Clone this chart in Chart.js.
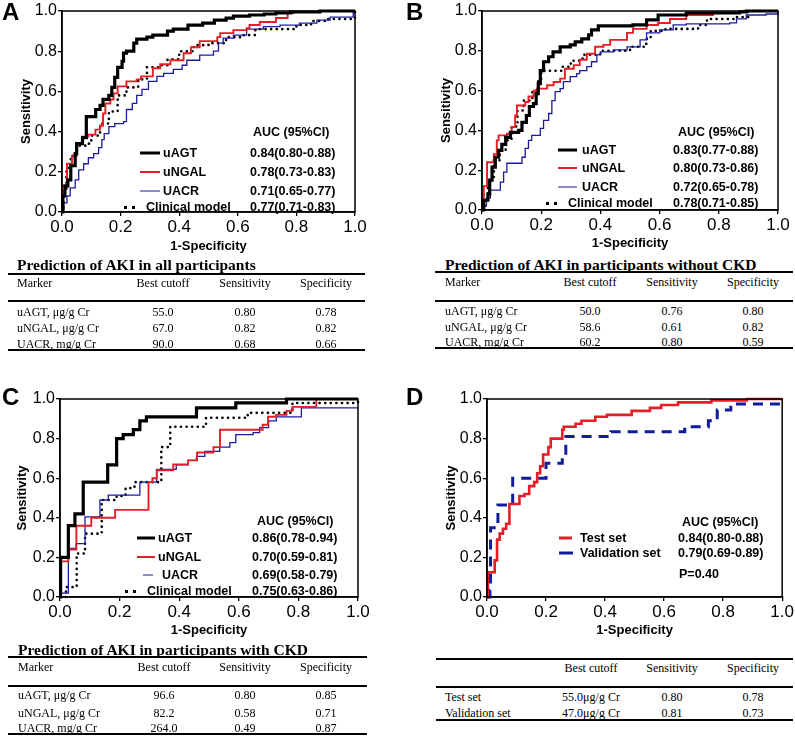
<!DOCTYPE html>
<html>
<head>
<meta charset="utf-8">
<script src="https://cdn.jsdelivr.net/npm/chart.js@4.4.0/dist/chart.umd.min.js"></script>
<style>
  body { margin: 0; background: #fff; }
  #fig { position: relative; width: 795px; height: 737px; overflow: hidden; font-family: "Liberation Sans", Arial, sans-serif; color: #000; }
  canvas { position: absolute; }
  .letter { position: absolute; font-weight: bold; font-size: 24px; line-height: 24px; }
  .lg { position: absolute; font-weight: bold; font-size: 12.5px; line-height: 14px; white-space: nowrap; transform: translateY(-50%); }
  .sw { position: absolute; height: 0; }
  .tt { position: absolute; font-family: "Liberation Serif", "Times New Roman", serif; font-weight: bold; font-size: 15.5px; line-height: 16px; white-space: nowrap; transform: translateY(-50%); }
  .rule { position: absolute; height: 0; border-top: 2px solid #000; }
  .cell { position: absolute; font-family: "Liberation Serif", "Times New Roman", serif; font-size: 12px; line-height: 14px; white-space: nowrap; transform: translate(-50%, -50%); }
  .cell.first { transform: translateY(-50%); }
</style>
</head>
<body>
<div id="fig">
  <canvas id="rocA" width="395" height="258" style="left:0;top:0"></canvas>
  <canvas id="rocB" width="395" height="256" style="left:400px;top:0"></canvas>
  <canvas id="rocC" width="395" height="272" style="left:0;top:370px"></canvas>
  <canvas id="rocD" width="395" height="272" style="left:400px;top:370px"></canvas>
</div>
<script>
/** ROC curves of uAGT, uNGAL, UACR for AKI prediction, panels A-D */

const TICK_VALUES = [0, 0.2, 0.4, 0.6, 0.8, 1.0];

// A: all participants
const aAgtFpr = [0, 0.003, 0.01, 0.02, 0.03, 0.045, 0.05, 0.07, 0.083, 0.115, 0.13, 0.14, 0.16, 0.17, 0.18, 0.19, 0.205, 0.21, 0.22, 0.245, 0.255, 0.29, 0.31, 0.36, 0.38, 0.43, 0.48, 0.52, 0.56, 0.585, 0.64, 0.69, 0.73, 0.78, 0.88, 1];
const aAgtSens = [0, 0.08, 0.13, 0.16, 0.23, 0.29, 0.34, 0.37, 0.475, 0.51, 0.53, 0.56, 0.58, 0.62, 0.67, 0.72, 0.75, 0.79, 0.80, 0.84, 0.86, 0.87, 0.88, 0.90, 0.91, 0.93, 0.94, 0.955, 0.965, 0.975, 0.98, 0.985, 0.99, 0.995, 1, 1];
const aNgalFpr = [0, 0.002, 0.017, 0.034, 0.05, 0.068, 0.09, 0.114, 0.13, 0.14, 0.148, 0.165, 0.176, 0.19, 0.22, 0.255, 0.27, 0.31, 0.335, 0.37, 0.415, 0.44, 0.47, 0.53, 0.54, 0.585, 0.63, 0.64, 0.675, 0.73, 0.77, 0.79, 0.88, 1];
const aNgalSens = [0, 0.13, 0.24, 0.28, 0.34, 0.375, 0.385, 0.41, 0.43, 0.49, 0.54, 0.56, 0.59, 0.625, 0.65, 0.66, 0.675, 0.715, 0.735, 0.755, 0.79, 0.82, 0.85, 0.87, 0.89, 0.905, 0.915, 0.93, 0.945, 0.965, 0.99, 0.995, 1, 1];
const aAcrFpr = [0, 0.006, 0.017, 0.028, 0.045, 0.057, 0.074, 0.09, 0.108, 0.125, 0.136, 0.144, 0.16, 0.18, 0.21, 0.22, 0.24, 0.255, 0.273, 0.295, 0.324, 0.347, 0.38, 0.41, 0.426, 0.47, 0.517, 0.534, 0.55, 0.585, 0.63, 0.687, 0.744, 0.81, 0.87, 0.915, 0.994, 1];
const aAcrSens = [0, 0.045, 0.08, 0.12, 0.16, 0.21, 0.24, 0.27, 0.29, 0.32, 0.36, 0.39, 0.425, 0.44, 0.45, 0.51, 0.54, 0.58, 0.61, 0.65, 0.675, 0.69, 0.71, 0.73, 0.755, 0.78, 0.80, 0.84, 0.865, 0.88, 0.91, 0.922, 0.93, 0.94, 0.955, 0.97, 1, 1];
const aClinFpr = [0, 0.005, 0.015, 0.03, 0.05, 0.08, 0.1, 0.13, 0.16, 0.19, 0.22, 0.26, 0.29, 0.33, 0.36, 0.4, 0.45, 0.5, 0.56, 0.62, 0.66, 0.72, 0.8, 0.85, 0.9, 0.99, 1];
const aClinSens = [0, 0.1, 0.22, 0.28, 0.33, 0.34, 0.38, 0.44, 0.5, 0.58, 0.62, 0.66, 0.72, 0.73, 0.76, 0.8, 0.83, 0.84, 0.87, 0.88, 0.91, 0.91, 0.93, 0.95, 0.96, 0.965, 1];

// B: participants without CKD
const bAgtFpr = [0, 0.006, 0.02, 0.026, 0.034, 0.045, 0.056, 0.067, 0.08, 0.096, 0.124, 0.135, 0.15, 0.16, 0.174, 0.183, 0.19, 0.197, 0.208, 0.225, 0.24, 0.264, 0.298, 0.315, 0.337, 0.36, 0.37, 0.393, 0.51, 0.556, 0.595, 0.69, 0.87, 0.893, 1];
const bAgtSens = [0, 0.05, 0.08, 0.15, 0.215, 0.265, 0.30, 0.33, 0.365, 0.39, 0.40, 0.44, 0.475, 0.52, 0.535, 0.585, 0.635, 0.70, 0.745, 0.77, 0.795, 0.82, 0.83, 0.845, 0.86, 0.88, 0.905, 0.925, 0.93, 0.955, 0.98, 0.99, 0.995, 1, 1];
const bNgalFpr = [0, 0.003, 0.006, 0.017, 0.04, 0.05, 0.056, 0.084, 0.1, 0.112, 0.118, 0.146, 0.157, 0.174, 0.186, 0.22, 0.242, 0.264, 0.28, 0.31, 0.33, 0.354, 0.382, 0.41, 0.433, 0.49, 0.51, 0.556, 0.595, 0.635, 0.69, 0.78, 0.87, 1];
const bNgalSens = [0, 0.065, 0.12, 0.24, 0.28, 0.35, 0.375, 0.383, 0.417, 0.475, 0.525, 0.543, 0.57, 0.60, 0.61, 0.627, 0.643, 0.66, 0.71, 0.728, 0.755, 0.785, 0.82, 0.83, 0.855, 0.89, 0.91, 0.93, 0.94, 0.96, 0.98, 0.993, 1, 1];
const bAcrFpr = [0, 0.006, 0.015, 0.028, 0.062, 0.073, 0.084, 0.135, 0.146, 0.157, 0.168, 0.197, 0.208, 0.225, 0.236, 0.247, 0.264, 0.275, 0.298, 0.32, 0.33, 0.354, 0.37, 0.388, 0.4, 0.444, 0.49, 0.534, 0.556, 0.6, 0.646, 0.69, 0.837, 0.86, 0.893, 0.96, 1];
const bAcrSens = [0, 0.02, 0.06, 0.1, 0.14, 0.19, 0.235, 0.265, 0.31, 0.35, 0.375, 0.41, 0.45, 0.485, 0.55, 0.595, 0.61, 0.645, 0.67, 0.685, 0.70, 0.72, 0.745, 0.78, 0.795, 0.805, 0.82, 0.855, 0.89, 0.905, 0.93, 0.935, 0.94, 0.96, 0.98, 0.985, 1];
const bClinFpr = [0, 0.005, 0.02, 0.04, 0.06, 0.08, 0.1, 0.12, 0.14, 0.17, 0.19, 0.2, 0.27, 0.3, 0.34, 0.4, 0.5, 0.555, 0.57, 0.62, 0.73, 0.76, 0.86, 0.9, 1];
const bClinSens = [0, 0.08, 0.15, 0.25, 0.3, 0.35, 0.42, 0.5, 0.55, 0.6, 0.65, 0.7, 0.72, 0.75, 0.78, 0.8, 0.82, 0.86, 0.9, 0.91, 0.93, 0.96, 0.97, 1, 1];

// C: participants with CKD
const cAgtFpr = [0, 0.002, 0.028, 0.05, 0.078, 0.16, 0.19, 0.212, 0.246, 0.268, 0.29, 0.458, 0.59, 0.76, 1];
const cAgtSens = [0, 0.2, 0.36, 0.42, 0.58, 0.667, 0.8, 0.82, 0.845, 0.89, 0.91, 0.955, 0.98, 1, 1];
const cNgalFpr = [0, 0.002, 0.028, 0.055, 0.105, 0.185, 0.297, 0.31, 0.325, 0.38, 0.43, 0.46, 0.515, 0.537, 0.68, 0.698, 0.725, 0.76, 0.78, 0.86, 1];
const cNgalSens = [0, 0.18, 0.24, 0.36, 0.40, 0.44, 0.58, 0.6, 0.64, 0.67, 0.69, 0.73, 0.757, 0.845, 0.87, 0.91, 0.92, 0.94, 0.96, 1, 1];
const cAcrFpr = [0, 0.001, 0.028, 0.054, 0.084, 0.134, 0.162, 0.268, 0.324, 0.39, 0.43, 0.458, 0.486, 0.536, 0.57, 0.59, 0.648, 0.67, 0.7, 0.726, 0.81, 1];
const cAcrSens = [0, 0.02, 0.245, 0.27, 0.405, 0.49, 0.515, 0.58, 0.645, 0.667, 0.69, 0.71, 0.735, 0.757, 0.78, 0.82, 0.83, 0.855, 0.89, 0.91, 0.955, 0.955];
const cClinFpr = [0, 0.02, 0.056, 0.056, 0.084, 0.084, 0.14, 0.14, 0.19, 0.22, 0.25, 0.34, 0.34, 0.37, 0.49, 0.63, 0.78, 1];
const cClinSens = [0, 0.05, 0.1, 0.22, 0.25, 0.32, 0.32, 0.49, 0.51, 0.55, 0.58, 0.6, 0.757, 0.86, 0.905, 0.93, 0.98, 1];

// D: test vs validation set (uAGT)
const dTestFpr = [0, 0.003, 0.026, 0.034, 0.043, 0.054, 0.065, 0.076, 0.11, 0.127, 0.143, 0.16, 0.17, 0.18, 0.19, 0.208, 0.216, 0.255, 0.26, 0.3, 0.32, 0.367, 0.406, 0.49, 0.552, 0.59, 0.647, 0.76, 0.88, 1];
const dTestSens = [0, 0.125, 0.185, 0.29, 0.32, 0.345, 0.37, 0.47, 0.51, 0.52, 0.56, 0.58, 0.625, 0.66, 0.72, 0.757, 0.80, 0.845, 0.86, 0.875, 0.89, 0.91, 0.92, 0.94, 0.955, 0.97, 0.983, 0.993, 1, 1];
const dValFpr = [0, 0.01, 0.012, 0.037, 0.087, 0.2, 0.255, 0.267, 0.42, 0.67, 0.75, 0.78, 0.826, 1, 1];
const dValSens = [0, 0.035, 0.35, 0.465, 0.6, 0.675, 0.71, 0.81, 0.835, 0.86, 0.89, 0.945, 0.975, 0.975, 1];

// legend texts
const markerLabels = ['uAGT', 'uNGAL', 'UACR', 'Clinical model'];
const aucA = ['0.84(0.80-0.88)', '0.78(0.73-0.83)', '0.71(0.65-0.77)', '0.77(0.71-0.83)'];
const aucB = ['0.83(0.77-0.88)', '0.80(0.73-0.86)', '0.72(0.65-0.78)', '0.78(0.71-0.85)'];
const aucC = ['0.86(0.78-0.94)', '0.70(0.59-0.81)', '0.69(0.58-0.79)', '0.75(0.63-0.86)'];
const setLabels = ['Test set', 'Validation set'];
const aucD = ['0.84(0.80-0.88)', '0.79(0.69-0.89)'];

// tables
const tableHead = ['Marker', 'Best cutoff', 'Sensitivity', 'Specificity'];
const tableMarkers = ['uAGT, μg/g Cr', 'uNGAL, μg/g Cr', 'UACR, mg/g Cr'];
const cutoffA = ['55.0', '67.0', '90.0'], sensA = ['0.80', '0.82', '0.68'], specA = ['0.78', '0.82', '0.66'];
const cutoffB = ['50.0', '58.6', '60.2'], sensB = ['0.76', '0.61', '0.80'], specB = ['0.80', '0.82', '0.59'];
const cutoffC = ['96.6', '82.2', '264.0'], sensC = ['0.80', '0.58', '0.49'], specC = ['0.85', '0.71', '0.87'];
const cutoffD = ['55.0μg/g Cr', '47.0μg/g Cr'], sensD = ['0.80', '0.81'], specD = ['0.78', '0.73'];

const RED = '#e41e25', BLUE = '#1c1c9e', NAVY = '#101c9c';
const STYLE = {
  agt: { borderColor: '#000', borderWidth: 3.2 },
  ngal: { borderColor: RED, borderWidth: 1.9 },
  acr: { borderColor: BLUE, borderWidth: 1.3 },
  clin: { borderColor: '#000', borderWidth: 2.6, borderDash: [0.1, 5.5], borderCapStyle: 'round' },
  test: { borderColor: RED, borderWidth: 2.6 },
  valid: { borderColor: NAVY, borderWidth: 3, borderDash: [10, 7] }
};

Chart.defaults.font.family = '"Liberation Sans", Arial, sans-serif';
Chart.defaults.color = '#000';

const framePlugin = {
  id: 'frame',
  afterDraw(chart) {
    const { ctx, chartArea: a } = chart;
    ctx.save();
    ctx.strokeStyle = '#000';
    ctx.lineWidth = 1.5;
    ctx.strokeRect(a.left, a.top, a.right - a.left, a.bottom - a.top);
    ctx.restore();
  }
};

function roc(label, fpr, sens, style) {
  return Object.assign({
    label,
    data: fpr.map((x, i) => ({ x, y: sens[i] })),
    showLine: true, stepped: 'before', pointRadius: 0, fill: false, clip: 3
  }, style);
}

function axis(isX, title, size, fit, titlePad) {
  return {
    type: 'linear', min: 0, max: 1,
    afterBuildTicks: s => { s.ticks = TICK_VALUES.map(v => ({ value: v })); },
    afterFit: s => { if (isX) s.height = fit; else s.width = fit; },
    ticks: { color: '#000', font: { size }, padding: 1, autoSkip: false, maxRotation: 0, callback: v => v.toFixed(1) },
    grid: { drawOnChartArea: false, drawTicks: true, tickLength: 4, color: '#000', lineWidth: 1.3 },
    border: { display: true, color: '#000', width: 1.5 },
    title: { display: true, text: title, color: '#000', font: { size: 13, weight: 'bold' }, padding: titlePad }
  };
}

// g: chart area geometry inside its canvas
function renderRoc(id, datasets, g) {
  const canvas = document.getElementById(id);
  new Chart(canvas, {
    type: 'scatter',
    data: { datasets },
    options: {
      responsive: false, animation: false, events: [],
      layout: { padding: { top: g.top, right: g.right, left: 0, bottom: 0 } },
      plugins: { legend: { display: false }, tooltip: { enabled: false } },
      scales: {
        x: axis(true, '1-Specificity', 17, canvas.height - g.bottom, { top: 0, bottom: g.xTitle }),
        y: axis(false, 'Sensitivity', 16, g.left, { top: g.yTitle, bottom: 0 })
      }
    },
    plugins: [framePlugin]
  });
}

const fig = document.getElementById('fig');
function put(cls, html, css) {
  const d = document.createElement('div');
  d.className = cls;
  d.innerHTML = html;
  d.style.cssText = css;
  fig.appendChild(d);
}

function swatch(x0, x1, y, border) {
  put('sw', '', `left:${x0}px;width:${x1 - x0}px;top:${y}px;border-top:${border};transform:translateY(-50%)`);
}

function legendRows(hdr, rows) {
  put('lg', 'AUC (95%CI)', `left:${hdr.x}px;top:${hdr.y}px`);
  rows.forEach(r => {
    swatch(r.s0, r.s1, r.y, r.border);
    put('lg', r.label, `left:${r.lx}px;top:${r.y}px`);
    put('lg', r.auc, `left:${r.vx}px;top:${r.y}px`);
  });
}

function renderTable(t) {
  if (t.title) put('tt', t.title, `left:${t.cols[0]}px;top:${t.titleY}px`);
  const w = t.x1 - t.x0;
  put('rule', '', `left:${t.x0}px;width:${w}px;top:${t.lines[0] - 1}px`);
  put('rule', '', `left:${t.x0}px;width:${w}px;top:${t.lines[1] - 1}px`);
  put('rule', '', `left:${t.x0}px;width:${w}px;top:${t.lines[2] - 1}px`);
  t.head.forEach((h, i) => put(i ? 'cell' : 'cell first', h, `left:${t.cols[i]}px;top:${t.headY}px`));
  t.names.forEach((n, r) => {
    const vals = [n, t.cut[r], t.sens[r], t.spec[r]];
    vals.forEach((v, i) => put(i ? 'cell' : 'cell first', v, `left:${t.cols[i]}px;top:${t.rowsY[r]}px`));
  });
}

function renderAll() {
  renderRoc('rocA', [
    roc('uAGT', aAgtFpr, aAgtSens, STYLE.agt),
    roc('uNGAL', aNgalFpr, aNgalSens, STYLE.ngal),
    roc('UACR', aAcrFpr, aAcrSens, STYLE.acr),
    roc('Clinical model', aClinFpr, aClinSens, STYLE.clin)
  ], { left: 62, right: 40, top: 11, bottom: 212, xTitle: 4, yTitle: 19 });

  renderRoc('rocB', [
    roc('uAGT', bAgtFpr, bAgtSens, STYLE.agt),
    roc('uNGAL', bNgalFpr, bNgalSens, STYLE.ngal),
    roc('UACR', bAcrFpr, bAcrSens, STYLE.acr),
    roc('Clinical model', bClinFpr, bClinSens, STYLE.clin)
  ], { left: 82, right: 17, top: 11, bottom: 210, xTitle: 5, yTitle: 39 });

  renderRoc('rocC', [
    roc('uAGT', cAgtFpr, cAgtSens, STYLE.agt),
    roc('uNGAL', cNgalFpr, cNgalSens, STYLE.ngal),
    roc('UACR', cAcrFpr, cAcrSens, STYLE.acr),
    roc('Clinical model', cClinFpr, cClinSens, STYLE.clin)
  ], { left: 60, right: 37, top: 29, bottom: 227, xTitle: 4, yTitle: 15 });

  renderRoc('rocD', [
    roc('Test set', dTestFpr, dTestSens, STYLE.test),
    roc('Validation set', dValFpr, dValSens, STYLE.valid)
  ], { left: 87, right: 10, top: 29, bottom: 227, xTitle: 4, yTitle: 44 });

  put('letter', 'A', 'left:2px;top:0px');
  put('letter', 'B', 'left:406px;top:0px');
  put('letter', 'C', 'left:2px;top:385px');
  put('letter', 'D', 'left:406px;top:385px');

  const sw4 = ['3.5px solid #000', `2px solid ${RED}`, `1.4px solid ${BLUE}`, '3px dotted #000'];
  legendRows({ x: 253, y: 132 }, [153, 172, 191, 207].map((y, i) => ({
    y, border: sw4[i], s0: i === 3 ? 124 : 140, s1: i === 3 ? 135 : 160, lx: i === 3 ? 146 : 163, vx: 250,
    label: markerLabels[i], auc: aucA[i]
  })));
  legendRows({ x: 678, y: 132 }, [150, 168, 187, 203].map((y, i) => ({
    y, border: sw4[i], s0: i === 3 ? 546 : 558, s1: i === 3 ? 557 : 577, lx: i === 3 ? 568 : 582, vx: 673,
    label: markerLabels[i], auc: aucB[i]
  })));
  legendRows({ x: 257, y: 521 }, [538, 557, 575, 591].map((y, i) => ({
    y, border: sw4[i], s0: [137, 137, 143, 125][i], s1: [155, 155, 153, 136][i], lx: [158, 158, 162, 147][i], vx: 252,
    label: markerLabels[i], auc: aucC[i]
  })));
  legendRows({ x: 682, y: 522 }, [538, 553].map((y, i) => ({
    y, border: i ? `3px solid ${NAVY}` : `3px solid ${RED}`, s0: 559, s1: i ? 573 : 572, lx: 580, vx: 678,
    label: setLabels[i], auc: aucD[i]
  })));
  put('lg', 'P=0.40', 'left:679px;top:574px');

  renderTable({ title: 'Prediction of AKI in all participants', titleY: 265, x0: 8, x1: 365, lines: [274, 301, 350],
    cols: [17, 163, 245, 326], headY: 283, rowsY: [312, 328, 344], head: tableHead, names: tableMarkers, cut: cutoffA, sens: sensA, spec: specA });
  renderTable({ title: 'Prediction of AKI in participants without CKD', titleY: 265, x0: 435, x1: 793, lines: [272, 301, 348],
    cols: [445, 590, 672, 753], headY: 282, rowsY: [311, 327, 342], head: tableHead, names: tableMarkers, cut: cutoffB, sens: sensB, spec: specB });
  renderTable({ title: 'Prediction of AKI in participants with CKD', titleY: 650, x0: 8, x1: 367, lines: [657, 686, 734],
    cols: [18, 164, 245, 326], headY: 667, rowsY: [695, 713, 728], head: tableHead, names: tableMarkers, cut: cutoffC, sens: sensC, spec: specC });
  renderTable({ title: '', x0: 436, x1: 793, lines: [659, 687, 720],
    cols: [445, 591, 672, 753], headY: 668, rowsY: [697, 713], head: ['', 'Best cutoff', 'Sensitivity', 'Specificity'], names: setLabels, cut: cutoffD, sens: sensD, spec: specD });
}

renderAll();
</script>
</body>
</html>
